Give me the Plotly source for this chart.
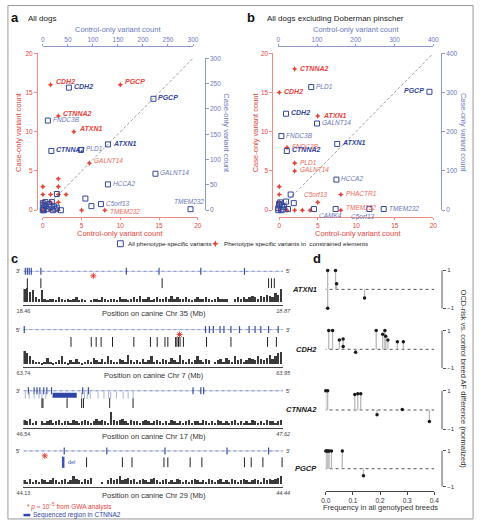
import plotly.graph_objects as go

W, H = 482, 523
FONT = "Liberation Sans, Arial, sans-serif"
RED = "#e8433b"; RED_L = "#f08a82"; RED_T = "#ee6a60"
BLUE = "#33469a"; BLUE_L = "#8e98cc"; BLUE_T = "#6b77b8"

def PX(x): return x / W
def PY(y): return 1 - y / H

# ---------------- data: panel a (all dogs) ----------------
a_red_genes = ["CDH2", "PGCP", "CTNNA2", "ATXN1", "GALNT14", "TMEM232"]
a_red_ctrl = [1, 10, 2, 4, 6, 8]
a_red_case = [16, 16, 12, 10, 6, 0]
a_red_bold = [1, 1, 1, 1, 0, 0]
a_red_other_ctrl = [0, 2, 2, 0, 1, 2, 3, 0, 1, 2, 5, 1, 0, 2]
a_red_other_case = [3, 4, 3, 2, 2, 2, 2, 1, 1, 1, 0, 0, 0, 0]

a_blue_genes = ["CDH2", "PGCP", "FNDC3B", "CTNNA2", "PLD1", "ATXN1", "GALNT14", "HCCA2", "C5orf13", "TMEM232"]
a_blue_ctrl = [52, 221, 10, 17, 76, 130, 225, 130, 116, 295]
a_blue_case = [242, 220, 177, 117, 119, 130, 72, 51, 12, 2]
a_blue_bold = [1, 1, 0, 1, 0, 1, 0, 0, 0, 0]
a_blue_other_ctrl = [85, 97, 36, 28, 0, 3, 5, 0, 8, 12, 15, 18, 22, 25, 6, 2, 0, 28, 20]
a_blue_other_case = [23, 8, 0, 32, 3, 10, 16, 14, 2, 12, 6, 16, 8, 2, 8, 0, 0, 5, 0]

# ---------------- data: panel b (excluding Doberman pinscher) ----------------
b_red_genes = ["CTNNA2", "CDH2", "ATXN1", "FNDC3B", "PLD1", "GALNT14", "PHACTR1", "C5orf13", "TMEM232"]
b_red_ctrl = [2, 0, 5, 1, 2, 2, 8, 5, 8]
b_red_case = [18, 15, 12, 8, 6, 5, 2, 1, 0]
b_red_bold = [1, 1, 1, 0, 0, 0, 0, 0, 0]
b_red_other_ctrl = [0, 0, 0, 0, 1, 2, 3, 4]
b_red_other_case = [3, 2, 1, 0, 0, 0, 0, 0]

b_blue_genes = ["PLD1", "PGCP", "CDH2", "GALNT14", "FNDC3B", "ATXN1", "CTNNA2", "HCCA2", "CAMK4", "C5orf13", "TMEM232"]
b_blue_ctrl = [85, 390, 20, 100, 8, 152, 22, 150, 92, 235, 272]
b_blue_case = [314, 302, 246, 221, 189, 169, 151, 78, 3, 3, 3]
b_blue_bold = [0, 1, 1, 0, 0, 1, 1, 0, 0, 0, 0]
b_blue_other_ctrl = [148, 32, 40, 0, 5, 10, 3, 15, 20, 25, 8, 2, 0, 12]
b_blue_other_case = [3, 40, 18, 5, 20, 12, 12, 8, 22, 3, 0, 16, 0, 2]

# ---------------- data: panel c (tracks) ----------------
c_chroms = ["35", "7", "17", "29"]
c_start = ["18.46", "63.74", "46.54", "44.13"]
c_end = ["18.87", "63.95", "47.62", "44.44"]
c_strand_left = ["3'", "5'", "3'", "5'"]
c_strand_right = ["5'", "3'", "5'", "3'"]
# positions as % of displayed region
c_variants = [
    [1.5, 6.7, 53.4, 94.4, 95.5, 96.6],
    [18.3, 26.1, 28.0, 29.9, 34.3, 42.5, 48.9, 51.5, 54.5, 55.6, 58.6, 59.1, 59.7, 60.3, 61.6, 70.5, 79.9, 94.0, 97.4],
    [7.1, 7.5, 16.8, 22.4, 23.1, 33.2, 42.2],
    [24.3, 38.1, 41.8, 54.1, 55.6, 64.2, 68.7, 85.1, 87.7, 92.2, 99.6],
]
c_exons = [
    [0.7, 1.5, 2.2, 3.0, 6.7, 39.6, 52.2, 68.3, 85.1],
    [0.3, 70.1, 71.6, 73.1, 75.7, 77.2, 79.9, 83.2, 86.9, 89.2, 91.4, 94.4, 98.1],
    [1.9, 4.1, 5.2, 6.3, 7.8, 9.0, 10.8, 22.8, 25.0, 65.3, 68.3, 69.4],
    [15.7, 32.1, 54.5, 78.4, 94.4],
]
c_gwa = [26.9, 60.1, None, 8.2]
c3_seq_region = [11.2, 20.5]
c3_light = [0.7, 2.2, 4.1, 6.0, 7.1, 8.6, 22.4, 23.5, 24.6, 25.7, 28.7, 31.0, 32.8, 33.6, 35.8, 38.4, 40.3, 42.2]
c4_del = 15.3
c_hist = [
    [9,10,7,8,3,2,8,2,1,2, 2,1,3,2,1,2,1,2,3,1, 2,1,0,1,2,2,1,3,2,1, 2,2,1,3,2,2,1,2,3,2,
     4,2,2,3,1,2,3,2,2,3, 2,4,2,3,2,2,3,2,1,2, 3,2,2,3,2,1,2,3,2,2, 2,0,0,2,3,2,3,2,3,4, 3,2,4,3,5,4,3,6,5,9],
    [10,8,6,3,2,2,1,2,5,2, 1,2,3,6,2,1,3,2,4,2, 1,2,3,2,5,3,2,4,2,6, 3,2,2,4,3,2,7,3,2,3,
     2,4,2,3,6,2,3,2,4,3, 2,5,3,2,7,3,2,4,2,3, 6,3,2,4,3,0,2,3,4,2, 5,3,2,6,3,4,2,3,5,4, 3,6,4,3,5,7,4,6,8,9],
    [4,3,5,2,3,0,3,2,3,4, 2,3,4,2,3,3,2,4,3,2, 3,4,3,2,3,5,3,4,3,2, 10,4,3,4,5,3,2,4,3,3,
     2,3,4,3,2,3,4,3,2,3, 2,4,3,2,3,2,3,4,2,3, 3,2,4,3,2,3,2,4,3,2, 3,2,3,4,2,3,2,3,2,4, 3,2,3,2,4,3,3,2,3,4],
    [3,2,4,2,3,2,4,3,2,3, 5,3,2,3,4,2,3,6,4,3, 2,4,3,5,0,0,0,2,0,3, 5,3,4,6,3,4,5,3,4,2,
     3,4,3,2,4,5,3,2,3,4, 2,3,2,4,3,2,3,2,3,4, 3,2,3,2,4,3,2,3,4,2, 3,2,4,3,2,3,4,3,2,3, 4,3,2,5,3,4,3,4,5,6],
]

# ---------------- data: panel d (lollipops) ----------------
d_genes = ["ATXN1", "CDH2", "CTNNA2", "PGCP"]
d_freq = [
    [0.007, 0.007, 0.036, 0.04, 0.143],
    [0.011, 0.025, 0.05, 0.064, 0.064, 0.11, 0.186, 0.21, 0.218, 0.221, 0.229, 0.264, 0.286],
    [0.0, 0.007, 0.107, 0.118, 0.129, 0.189, 0.282, 0.382],
    [0.0, 0.004, 0.008, 0.012, 0.021, 0.061, 0.139],
]
d_diff = [
    [1, -1, 1, 0.3, -0.45],
    [1, 1, 0.5, 0.55, 0.15, -0.15, 1, 0.8, 1, 0.7, 0.5, 0.4, 0.4],
    [1, 1, 0.8, 0.85, 0.85, -0.25, 0.02, -0.6],
    [1, 1, 1, 1, 1, 1, -0.4],
]
d_xticks = [0.0, 0.1, 0.2, 0.3, 0.4]

legend_labels = ["All phenotype-specific variants", "Phenotype specific variants in  constrained elements"]

# ====================================================================
fig = go.Figure()
layout = {}
annotations = []
shapes = []

def ref(prefix, n):
    return prefix if n == 1 else f"{prefix}{n}"

def axkey(prefix, n):
    return f"{prefix}axis" if n == 1 else f"{prefix}axis{n}"

def text(t, x, y, size=7, color="#222", xanchor="center", yanchor="middle", angle=0, xref="paper", yref="paper",
         xshift=0, yshift=0):
    if xref == "paper":
        x = PX(x)
    if yref == "paper":
        y = PY(y)
    annotations.append(dict(text=t, x=x, y=y, xref=xref, yref=yref, showarrow=False, xanchor=xanchor,
                            yanchor=yanchor, textangle=angle, xshift=xshift, yshift=yshift,
                            font=dict(size=size, color=color, family=FONT)))

def axis_style(color, tcolor, **kw):
    d = dict(showgrid=False, zeroline=False, showline=True, linecolor=color, linewidth=1, ticks="outside",
             ticklen=3, tickwidth=1, tickcolor=color, tickfont=dict(size=6.5, color=tcolor, family=FONT),
             anchor="free")
    d.update(kw)
    return d

def place_label(g, x, y, bold, xref, yref, color, p, dy):
    t = f"<b><i>{g}</i></b>" if bold else f"<i>{g}</i>"
    size = 7 if bold else 6.5
    if p == "r":
        text(t, x, y, size, color, "left", "middle", xref=xref, yref=yref, xshift=3, yshift=dy)
    elif p == "l":
        text(t, x, y, size, color, "right", "middle", xref=xref, yref=yref, xshift=-3, yshift=dy)
    elif p == "a":
        text(t, x, y, size, color, "center", "bottom", xref=xref, yref=yref, xshift=-2, yshift=2)
    elif p == "b":
        text(t, x, y, size, color, "center", "top", xref=xref, yref=yref, xshift=-6, yshift=-2)
    elif p == "br":
        text(t, x, y, size, color, "left", "top", xref=xref, yref=yref, xshift=3, yshift=-1)

# ---------- scatter panels a and b ----------
def scatter_panel(nr, nb, xr_dom, yr_dom, xb_dom, yb_dom, ypos_r, ypos_b, bmax, bdtick,
                  rg, rc, rk, rb, roc, rok, bg, bc, bk, bb, boc, bok, placements, red_dy, red_dy0):
    layout[axkey("x", nr)] = axis_style(RED_L, RED, domain=[PX(xr_dom[0]), PX(xr_dom[1])], range=[0, 20],
                                        position=PY(216), side="bottom", tickvals=[0, 5, 10, 15, 20], ticklen=2)
    layout[axkey("y", nr)] = axis_style(RED_L, RED, domain=[PY(yr_dom[0]), PY(yr_dom[1])], range=[0, 20],
                                        position=PX(ypos_r), side="left", tickvals=[0, 5, 10, 15, 20])
    layout[axkey("x", nb)] = axis_style(BLUE_L, BLUE_T, domain=[PX(xb_dom[0]), PX(xb_dom[1])], range=[0, bmax],
                                        position=PY(43), side="top", dtick=bdtick, tick0=0, ticklen=2)
    layout[axkey("y", nb)] = axis_style(BLUE_L, BLUE_T, domain=[PY(yb_dom[0]), PY(yb_dom[1])], range=[0, bmax],
                                        position=PX(ypos_b), side="right", dtick=bdtick, tick0=0)
    xb, yb, xr, yr = ref("x", nb), ref("y", nb), ref("x", nr), ref("y", nr)
    fig.add_trace(go.Scatter(x=[0, bmax], y=[0, bmax], mode="lines", xaxis=xb, yaxis=yb, showlegend=False,
                             line=dict(color="#888", width=0.8, dash="3px,2px"), hoverinfo="skip"))
    fig.add_trace(go.Scatter(x=bc + boc, y=bk + bok, mode="markers", xaxis=xb, yaxis=yb, cliponaxis=False,
                             showlegend=False,
                             marker=dict(symbol="square-open", size=5, color=BLUE, line=dict(width=1))))
    fig.add_trace(go.Scatter(x=rc + roc, y=rk + rok, mode="markers", xaxis=xr, yaxis=yr, cliponaxis=False,
                             showlegend=False,
                             marker=dict(symbol="star-diamond", size=4, color=RED, line=dict(width=0))))
    for g, x, y, bold in zip(rg, rc, rk, rb):
        place_label(g, x, y, bold, xr, yr, RED if bold else RED_T, placements.get(("r", g), "r"),
                    red_dy if y > 0 else red_dy0)
    for g, x, y, bold in zip(bg, bc, bk, bb):
        place_label(g, x, y, bold, xb, yb, BLUE if bold else BLUE_T, placements.get(("b", g), "r"), 1)

scatter_panel(1, 2, (37, 197), (209, 50), (37, 192), (209, 55), 31, 204, 300, 50,
              a_red_genes, a_red_ctrl, a_red_case, a_red_bold, a_red_other_ctrl, a_red_other_case,
              a_blue_genes, a_blue_ctrl, a_blue_case, a_blue_bold, a_blue_other_ctrl, a_blue_other_case,
              {("b", "TMEM232"): "a"}, 3, -1)
scatter_panel(3, 4, (281, 440), (209, 50), (280, 440), (209, 50), 274, 448, 400, 100,
              b_red_genes, b_red_ctrl, b_red_case, b_red_bold, b_red_other_ctrl, b_red_other_case,
              b_blue_genes, b_blue_ctrl, b_blue_case, b_blue_bold, b_blue_other_ctrl, b_blue_other_case,
              {("r", "C5orf13"): "a", ("b", "PGCP"): "l", ("b", "CAMK4"): "br", ("b", "C5orf13"): "b"}, 1, 3)

# legend for panels a/b (drawn as shapes + text)
shapes.append(dict(type="rect", xref="paper", yref="paper", x0=PX(114), x1=PX(120), y0=PY(246), y1=PY(240),
                   line=dict(color=BLUE, width=1)))
shapes.append(dict(type="path", xref="paper", yref="paper",
                   path=f"M {PX(215)} {PY(239.5)} L {PX(216)} {PY(242)} L {PX(218.5)} {PY(243)} L {PX(216)} {PY(244)} "
                        f"L {PX(215)} {PY(246.5)} L {PX(214)} {PY(244)} L {PX(211.5)} {PY(243)} L {PX(214)} {PY(242)} Z",
                   fillcolor=RED, line=dict(width=0)))
text(legend_labels[0], 123, 243, 6.2, "#222", "left")
text(legend_labels[1], 222, 243, 6.2, "#222", "left")

# panel titles and axis titles (a, b)
text("<b>a</b>", 8, 14, 13, "#111")
text("All dogs", 20, 15, 8, "#222", "left")
text("<b>b</b>", 252, 14, 13, "#111")
text("All dogs excluding Doberman pinscher", 266, 15, 8, "#222", "left")
for cx, lx, rx in [(115, 12, 227), (360, 256, 471)]:
    text("Control-only variant count", cx, 26, 7.5, BLUE_T)
    text("Control-only variant count", cx + 2, 233, 7.5, RED)
    text("Case-only variant count", lx, 130, 7.5, RED, angle=-90)
    text("Case-only variant count", rx, 131, 7.5, BLUE_T, angle=90)

# ---------- panel c tracks ----------
tracks = [
    dict(b=305, gene=271, star=275.5, var=283, hbase=302),
    dict(b=368, gene=330, star=335, var=342.5, hbase=365),
    dict(b=430, gene=392, star=None, var=404.5, hbase=427),
    dict(b=490, gene=453, star=458, var=464.5, hbase=487),
]
UNIT = 1.4
for k, tr in enumerate(tracks):
    n = 5 + k
    top = tr["gene"] - 6
    lo = -(tr["b"] - tr["hbase"]) / UNIT
    hi = lo + (tr["b"] - top) / UNIT

    def val(p, tr=tr, lo=lo):
        return lo + (tr["b"] - p) / UNIT

    layout[axkey("x", n)] = dict(domain=[PX(17), PX(285)], range=[0, 100], anchor="free", position=PY(tr["b"]),
                                 showgrid=False, zeroline=False, showline=True, linecolor="#444", linewidth=1,
                                 ticks="inside", ticklen=3, tickcolor="#444", tickvals=[0, 100],
                                 ticktext=[c_start[k], f"<i>{c_end[k]}</i>"],
                                 tickfont=dict(size=5.5, color="#444", family=FONT))
    layout[axkey("y", n)] = dict(domain=[PY(tr["b"]), PY(top)], range=[lo, hi], anchor="free", position=0,
                                 visible=False)
    xr, yr = ref("x", n), ref("y", n)
    hv = c_hist[k]
    N = len(hv)
    fig.add_trace(go.Bar(x=[(i + 0.5) * 100 / N for i in range(N)], y=hv, width=100 / N * 0.8,
                         marker=dict(color="#3a3a3a", line=dict(width=0)), xaxis=xr, yaxis=yr, showlegend=False))
    gy = val(tr["gene"])
    fig.add_trace(go.Scatter(x=[0, 100], y=[gy, gy], mode="lines", line=dict(color="#6f80c4", width=1, dash="dot"),
                             xaxis=xr, yaxis=yr, showlegend=False))
    fig.add_trace(go.Scatter(x=[0, 100], y=[gy, gy], mode="lines", line=dict(color="#aab4de", width=0.6),
                             xaxis=xr, yaxis=yr, showlegend=False))
    fig.add_trace(go.Scatter(x=c_exons[k], y=[gy] * len(c_exons[k]), mode="markers", xaxis=xr, yaxis=yr,
                             showlegend=False, cliponaxis=False,
                             marker=dict(symbol="line-ns-open", size=5, color="#3a4ea0", line=dict(width=1.2))))
    vy = val(tr["var"])
    fig.add_trace(go.Scatter(x=c_variants[k], y=[vy] * len(c_variants[k]), mode="markers", xaxis=xr, yaxis=yr,
                             showlegend=False, cliponaxis=False,
                             marker=dict(symbol="line-ns-open", size=7, color="#222", line=dict(width=1))))
    if c_gwa[k] is not None:
        fig.add_trace(go.Scatter(x=[c_gwa[k]], y=[val(tr["star"])], mode="markers", xaxis=xr, yaxis=yr,
                                 showlegend=False, cliponaxis=False,
                                 marker=dict(symbol="asterisk-open", size=5, color=RED, line=dict(width=1))))
    if k == 2:
        sy = val(396.5)
        fig.add_trace(go.Scatter(x=c3_light, y=[sy] * len(c3_light), mode="markers", xaxis=xr, yaxis=yr,
                                 showlegend=False, cliponaxis=False,
                                 marker=dict(symbol="line-ns-open", size=5, color="#a9b1d6", line=dict(width=1))))
        fig.add_trace(go.Scatter(x=c3_seq_region, y=[sy, sy], mode="lines", xaxis=xr, yaxis=yr, showlegend=False,
                                 line=dict(color="#2f46a8", width=5)))
    if k == 3:
        fig.add_trace(go.Scatter(x=[c4_del], y=[val(464.5)], mode="markers", xaxis=xr, yaxis=yr,
                                 showlegend=False, cliponaxis=False,
                                 marker=dict(symbol="line-ns-open", size=8, color="#3a55b5", line=dict(width=2.5))))
        text("del", c4_del, val(464.5), 5.5, "#3a55b5", "left", xref=xr, yref=yr, xshift=3)
    text(c_strand_left[k], 11, tr["gene"], 5.5, "#333")
    text(c_strand_right[k], 290, tr["gene"], 5.5, "#333")
    text(f"Position on canine Chr {c_chroms[k]} (Mb)", 152, tr["b"] + 8.5, 7.5, "#333")

text("<b>c</b>", 8, 258, 13, "#111")
text("* <i>p</i> ≈ 10<sup>−5</sup> from GWA analysis", 19, 509, 6.5, RED, "left")
shapes.append(dict(type="line", xref="paper", yref="paper", x0=PX(17), x1=PX(24), y0=PY(518), y1=PY(518),
                   line=dict(color="#2f46a8", width=2.5)))
text("Sequenced region in CTNNA2", 25, 518, 6.5, "#2f46a8", "left")

# ---------- panel d ----------
rows = [(270, 308.5), (331, 369), (392, 431), (453, 489)]
for k, (ytop, ybot) in enumerate(rows):
    n = 9 + k
    u = (ybot - ytop) / 2
    pad = 6
    xr, yr = ref("x", n), ref("y", n)
    xd = dict(domain=[PX(329), PX(441)], range=[0, 0.4], anchor="free", showgrid=False, zeroline=False)
    if k == 3:
        xd.update(position=PY(494), showline=True, linecolor="#444", linewidth=1, ticks="outside", ticklen=3,
                  tickcolor="#444", tickvals=d_xticks, ticktext=[f"{v:.1f}" for v in d_xticks],
                  tickfont=dict(size=6.5, color="#333", family=FONT))
    else:
        xd.update(position=PY(ybot + pad), visible=False)
    layout[axkey("x", n)] = xd
    layout[axkey("y", n)] = dict(domain=[PY(ybot + pad), PY(ytop - pad)], range=[-1 - pad / u, 1 + pad / u],
                                 anchor="free", position=PX(449), side="right", showgrid=False, zeroline=False,
                                 showline=False, ticks="outside", ticklen=3, tickcolor="#555", tickvals=[-1, 1],
                                 ticktext=["−1", "1"], tickfont=dict(size=6, color="#333", family=FONT))
    shapes.append(dict(type="line", xref="paper", yref=yr, x0=PX(449), x1=PX(449), y0=-1, y1=1,
                       line=dict(color="#555", width=1)))
    fig.add_trace(go.Scatter(x=[-0.008, 0.4], y=[0, 0], mode="lines", xaxis=xr, yaxis=yr, showlegend=False,
                             line=dict(color="#555", width=1, dash="dot")))
    sx, sy = [], []
    for f, v in zip(d_freq[k], d_diff[k]):
        sx += [f, f, None]
        sy += [0, v, None]
    fig.add_trace(go.Scatter(x=sx, y=sy, mode="lines", xaxis=xr, yaxis=yr, showlegend=False,
                             line=dict(color="#b8b8b8", width=1.3)))
    fig.add_trace(go.Scatter(x=d_freq[k], y=d_diff[k], mode="markers", xaxis=xr, yaxis=yr, showlegend=False,
                             cliponaxis=False, marker=dict(color="#1a1a1a", size=3.5)))
    text(f"<b><i>{d_genes[k]}</i></b>", 322, (ytop + ybot) / 2, 7.5, "#222", "right")

text("<b>d</b>", 320, 258, 13, "#111")
text("Frequency in all genotyped breeds", 385, 510, 7.5, "#333")
text("OCD-risk vs. control breed AF difference (normalized)", 471, 380, 7.5, "#333", angle=90)

# border
shapes.append(dict(type="rect", xref="paper", yref="paper", x0=0.002, x1=0.998, y0=0.002, y1=0.997,
                   line=dict(color="#999", width=1)))

fig.update_layout(
    width=W, height=H, margin=dict(l=0, r=0, t=0, b=0), paper_bgcolor="white", plot_bgcolor="rgba(0,0,0,0)",
    font=dict(family=FONT, size=7), annotations=annotations, shapes=shapes, bargap=0, showlegend=False,
    **layout,
)
fig.write_html("out.html")
